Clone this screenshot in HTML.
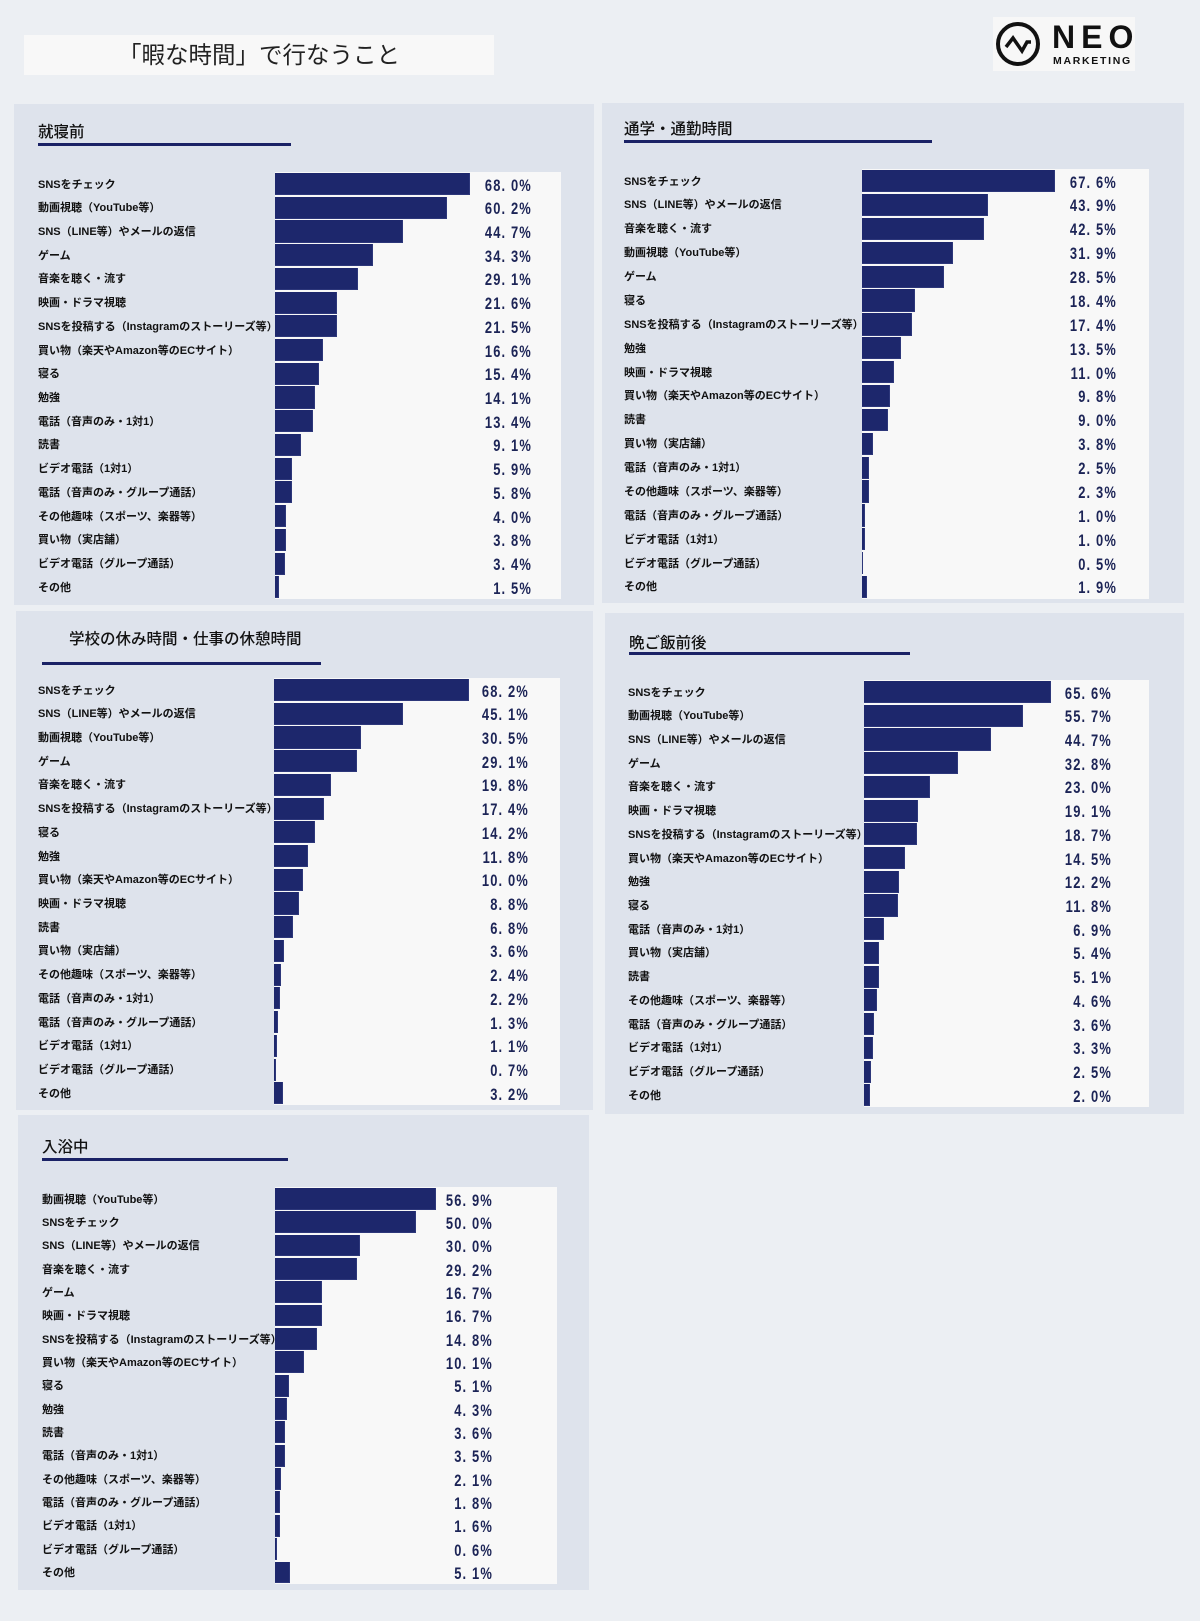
<!DOCTYPE html>
<html><head><meta charset="utf-8">
<style>
*{margin:0;padding:0;box-sizing:border-box}
html,body{width:1200px;height:1621px;overflow:hidden}
body{position:relative;background:#eceff3;font-family:"Liberation Sans","Noto Sans CJK JP",sans-serif;color:#111}
.a{position:absolute}
.panel{position:absolute;background:#dee3ec}
.plot{position:absolute;background:#f8f8f8}
.ttl{position:absolute;font-family:"Liberation Sans","Noto Sans CJK JP",sans-serif;font-size:15.5px;font-weight:500;line-height:20px;color:#111;white-space:nowrap}
.ul{position:absolute;height:2.5px;background:#1a2266}
.rows{position:absolute}
.r{position:relative;height:var(--h)}
.l{position:absolute;left:0;top:1.5px;line-height:var(--h);font-size:11px;font-weight:bold;white-space:nowrap;color:#111}
.b{position:absolute;left:var(--bx);top:1px;height:calc(var(--h) - 1.6px);background:#1d276c;box-shadow:inset -1px -1px 0 #2d377a}
.v{position:absolute;right:0;top:1.5px;line-height:var(--h);font-family:"Liberation Sans",sans-serif;font-size:17px;font-weight:bold;letter-spacing:1.5px;color:#1c2456;white-space:pre;transform:scaleX(.76);transform-origin:right center}
</style></head>
<body>

<!-- Title box -->
<div class="a" style="left:24px;top:35px;width:470px;height:40px;background:#f8f8f8"></div>
<div class="a" style="left:24px;top:35px;width:470px;height:40px;line-height:40px;text-align:center;font-family:'Liberation Sans','Noto Sans CJK JP',sans-serif;font-size:23.5px;color:#222;white-space:nowrap">「暇な時間」で行なうこと</div>

<!-- Logo -->
<div class="a" style="left:993px;top:17px;width:142px;height:54px;background:#f7f7f7"></div>
<svg class="a" style="left:993px;top:17px" width="142" height="54" viewBox="0 0 142 54">
  <circle cx="25" cy="27" r="20" fill="none" stroke="#111" stroke-width="4"/>
  <polyline points="13,30 20,21 29,34 34,25 38,25" fill="none" stroke="#111" stroke-width="3.5" stroke-linejoin="miter"/>
</svg>
<div class="a" style="left:1052px;top:20px;font-family:'Liberation Sans',sans-serif;font-weight:bold;font-size:32px;line-height:34px;letter-spacing:6px;color:#111">NEO</div>
<div class="a" style="left:1053px;top:55px;font-family:'Liberation Sans',sans-serif;font-weight:bold;font-size:10.5px;line-height:12px;letter-spacing:1.7px;color:#111">MARKETING</div>

<!-- Panel 1 -->
<div class="panel" style="left:14px;top:104px;width:580px;height:501px"></div>
<div class="ttl" style="left:38px;top:123px">就寝前</div>
<div class="ul" style="left:38px;top:143px;width:253px"></div>
<div class="plot" style="left:275px;top:172px;width:286px;height:427px"></div>
<div class="rows" style="left:38px;top:172px;width:494px;--h:23.72px;--bx:237px">
<div class="r"><span class="l">SNSをチェック</span><i class="b" style="width:194.5px"></i><span class="v">68. 0%</span></div>
<div class="r"><span class="l">動画視聴（YouTube等）</span><i class="b" style="width:172.2px"></i><span class="v">60. 2%</span></div>
<div class="r"><span class="l">SNS（LINE等）やメールの返信</span><i class="b" style="width:127.8px"></i><span class="v">44. 7%</span></div>
<div class="r"><span class="l">ゲーム</span><i class="b" style="width:98.1px"></i><span class="v">34. 3%</span></div>
<div class="r"><span class="l">音楽を聴く・流す</span><i class="b" style="width:83.2px"></i><span class="v">29. 1%</span></div>
<div class="r"><span class="l">映画・ドラマ視聴</span><i class="b" style="width:61.8px"></i><span class="v">21. 6%</span></div>
<div class="r"><span class="l">SNSを投稿する（Instagramのストーリーズ等）</span><i class="b" style="width:61.5px"></i><span class="v">21. 5%</span></div>
<div class="r"><span class="l">買い物（楽天やAmazon等のECサイト）</span><i class="b" style="width:47.5px"></i><span class="v">16. 6%</span></div>
<div class="r"><span class="l">寝る</span><i class="b" style="width:44px"></i><span class="v">15. 4%</span></div>
<div class="r"><span class="l">勉強</span><i class="b" style="width:40.3px"></i><span class="v">14. 1%</span></div>
<div class="r"><span class="l">電話（音声のみ・1対1）</span><i class="b" style="width:38.3px"></i><span class="v">13. 4%</span></div>
<div class="r"><span class="l">読書</span><i class="b" style="width:26px"></i><span class="v">9. 1%</span></div>
<div class="r"><span class="l">ビデオ電話（1対1）</span><i class="b" style="width:16.9px"></i><span class="v">5. 9%</span></div>
<div class="r"><span class="l">電話（音声のみ・グループ通話）</span><i class="b" style="width:16.6px"></i><span class="v">5. 8%</span></div>
<div class="r"><span class="l">その他趣味（スポーツ、楽器等）</span><i class="b" style="width:11.4px"></i><span class="v">4. 0%</span></div>
<div class="r"><span class="l">買い物（実店舗）</span><i class="b" style="width:10.9px"></i><span class="v">3. 8%</span></div>
<div class="r"><span class="l">ビデオ電話（グループ通話）</span><i class="b" style="width:9.7px"></i><span class="v">3. 4%</span></div>
<div class="r"><span class="l">その他</span><i class="b" style="width:4.3px"></i><span class="v">1. 5%</span></div>
</div>

<!-- Panel 2 -->
<div class="panel" style="left:602px;top:103px;width:582px;height:500px"></div>
<div class="ttl" style="left:624px;top:120px">通学・通勤時間</div>
<div class="ul" style="left:624px;top:140px;width:308px"></div>
<div class="plot" style="left:862px;top:169px;width:287px;height:430px"></div>
<div class="rows" style="left:624px;top:169px;width:493px;--h:23.89px;--bx:238px">
<div class="r"><span class="l">SNSをチェック</span><i class="b" style="width:193.3px"></i><span class="v">67. 6%</span></div>
<div class="r"><span class="l">SNS（LINE等）やメールの返信</span><i class="b" style="width:125.6px"></i><span class="v">43. 9%</span></div>
<div class="r"><span class="l">音楽を聴く・流す</span><i class="b" style="width:121.6px"></i><span class="v">42. 5%</span></div>
<div class="r"><span class="l">動画視聴（YouTube等）</span><i class="b" style="width:91.2px"></i><span class="v">31. 9%</span></div>
<div class="r"><span class="l">ゲーム</span><i class="b" style="width:81.5px"></i><span class="v">28. 5%</span></div>
<div class="r"><span class="l">寝る</span><i class="b" style="width:52.6px"></i><span class="v">18. 4%</span></div>
<div class="r"><span class="l">SNSを投稿する（Instagramのストーリーズ等）</span><i class="b" style="width:49.8px"></i><span class="v">17. 4%</span></div>
<div class="r"><span class="l">勉強</span><i class="b" style="width:38.6px"></i><span class="v">13. 5%</span></div>
<div class="r"><span class="l">映画・ドラマ視聴</span><i class="b" style="width:31.5px"></i><span class="v">11. 0%</span></div>
<div class="r"><span class="l">買い物（楽天やAmazon等のECサイト）</span><i class="b" style="width:28px"></i><span class="v">9. 8%</span></div>
<div class="r"><span class="l">読書</span><i class="b" style="width:25.7px"></i><span class="v">9. 0%</span></div>
<div class="r"><span class="l">買い物（実店舗）</span><i class="b" style="width:10.9px"></i><span class="v">3. 8%</span></div>
<div class="r"><span class="l">電話（音声のみ・1対1）</span><i class="b" style="width:7.2px"></i><span class="v">2. 5%</span></div>
<div class="r"><span class="l">その他趣味（スポーツ、楽器等）</span><i class="b" style="width:6.6px"></i><span class="v">2. 3%</span></div>
<div class="r"><span class="l">電話（音声のみ・グループ通話）</span><i class="b" style="width:2.9px"></i><span class="v">1. 0%</span></div>
<div class="r"><span class="l">ビデオ電話（1対1）</span><i class="b" style="width:2.9px"></i><span class="v">1. 0%</span></div>
<div class="r"><span class="l">ビデオ電話（グループ通話）</span><i class="b" style="width:1.4px"></i><span class="v">0. 5%</span></div>
<div class="r"><span class="l">その他</span><i class="b" style="width:5.4px"></i><span class="v">1. 9%</span></div>
</div>

<!-- Panel 3 -->
<div class="panel" style="left:16px;top:611px;width:577px;height:499px"></div>
<div class="ttl" style="left:69px;top:630px">学校の休み時間・仕事の休憩時間</div>
<div class="ul" style="left:42px;top:662px;width:279px"></div>
<div class="plot" style="left:274px;top:678px;width:286px;height:427px"></div>
<div class="rows" style="left:38px;top:678px;width:491px;--h:23.72px;--bx:236px">
<div class="r"><span class="l">SNSをチェック</span><i class="b" style="width:195.1px"></i><span class="v">68. 2%</span></div>
<div class="r"><span class="l">SNS（LINE等）やメールの返信</span><i class="b" style="width:129px"></i><span class="v">45. 1%</span></div>
<div class="r"><span class="l">動画視聴（YouTube等）</span><i class="b" style="width:87.2px"></i><span class="v">30. 5%</span></div>
<div class="r"><span class="l">ゲーム</span><i class="b" style="width:83.2px"></i><span class="v">29. 1%</span></div>
<div class="r"><span class="l">音楽を聴く・流す</span><i class="b" style="width:56.6px"></i><span class="v">19. 8%</span></div>
<div class="r"><span class="l">SNSを投稿する（Instagramのストーリーズ等）</span><i class="b" style="width:49.8px"></i><span class="v">17. 4%</span></div>
<div class="r"><span class="l">寝る</span><i class="b" style="width:40.6px"></i><span class="v">14. 2%</span></div>
<div class="r"><span class="l">勉強</span><i class="b" style="width:33.7px"></i><span class="v">11. 8%</span></div>
<div class="r"><span class="l">買い物（楽天やAmazon等のECサイト）</span><i class="b" style="width:28.6px"></i><span class="v">10. 0%</span></div>
<div class="r"><span class="l">映画・ドラマ視聴</span><i class="b" style="width:25.2px"></i><span class="v">8. 8%</span></div>
<div class="r"><span class="l">読書</span><i class="b" style="width:19.4px"></i><span class="v">6. 8%</span></div>
<div class="r"><span class="l">買い物（実店舗）</span><i class="b" style="width:10.3px"></i><span class="v">3. 6%</span></div>
<div class="r"><span class="l">その他趣味（スポーツ、楽器等）</span><i class="b" style="width:6.9px"></i><span class="v">2. 4%</span></div>
<div class="r"><span class="l">電話（音声のみ・1対1）</span><i class="b" style="width:6.3px"></i><span class="v">2. 2%</span></div>
<div class="r"><span class="l">電話（音声のみ・グループ通話）</span><i class="b" style="width:3.7px"></i><span class="v">1. 3%</span></div>
<div class="r"><span class="l">ビデオ電話（1対1）</span><i class="b" style="width:3.1px"></i><span class="v">1. 1%</span></div>
<div class="r"><span class="l">ビデオ電話（グループ通話）</span><i class="b" style="width:2px"></i><span class="v">0. 7%</span></div>
<div class="r"><span class="l">その他</span><i class="b" style="width:9.2px"></i><span class="v">3. 2%</span></div>
</div>

<!-- Panel 4 -->
<div class="panel" style="left:605px;top:613px;width:579px;height:501px"></div>
<div class="ttl" style="left:629px;top:634px">晩ご飯前後</div>
<div class="ul" style="left:629px;top:652px;width:281px"></div>
<div class="plot" style="left:864px;top:680px;width:285px;height:427px"></div>
<div class="rows" style="left:628px;top:680px;width:484px;--h:23.72px;--bx:236px">
<div class="r"><span class="l">SNSをチェック</span><i class="b" style="width:187px"></i><span class="v">65. 6%</span></div>
<div class="r"><span class="l">動画視聴（YouTube等）</span><i class="b" style="width:158.7px"></i><span class="v">55. 7%</span></div>
<div class="r"><span class="l">SNS（LINE等）やメールの返信</span><i class="b" style="width:127.4px"></i><span class="v">44. 7%</span></div>
<div class="r"><span class="l">ゲーム</span><i class="b" style="width:93.5px"></i><span class="v">32. 8%</span></div>
<div class="r"><span class="l">音楽を聴く・流す</span><i class="b" style="width:65.6px"></i><span class="v">23. 0%</span></div>
<div class="r"><span class="l">映画・ドラマ視聴</span><i class="b" style="width:54.4px"></i><span class="v">19. 1%</span></div>
<div class="r"><span class="l">SNSを投稿する（Instagramのストーリーズ等）</span><i class="b" style="width:53.3px"></i><span class="v">18. 7%</span></div>
<div class="r"><span class="l">買い物（楽天やAmazon等のECサイト）</span><i class="b" style="width:41.3px"></i><span class="v">14. 5%</span></div>
<div class="r"><span class="l">勉強</span><i class="b" style="width:34.8px"></i><span class="v">12. 2%</span></div>
<div class="r"><span class="l">寝る</span><i class="b" style="width:33.6px"></i><span class="v">11. 8%</span></div>
<div class="r"><span class="l">電話（音声のみ・1対1）</span><i class="b" style="width:19.7px"></i><span class="v">6. 9%</span></div>
<div class="r"><span class="l">買い物（実店舗）</span><i class="b" style="width:15.4px"></i><span class="v">5. 4%</span></div>
<div class="r"><span class="l">読書</span><i class="b" style="width:14.5px"></i><span class="v">5. 1%</span></div>
<div class="r"><span class="l">その他趣味（スポーツ、楽器等）</span><i class="b" style="width:13.1px"></i><span class="v">4. 6%</span></div>
<div class="r"><span class="l">電話（音声のみ・グループ通話）</span><i class="b" style="width:10.3px"></i><span class="v">3. 6%</span></div>
<div class="r"><span class="l">ビデオ電話（1対1）</span><i class="b" style="width:9.4px"></i><span class="v">3. 3%</span></div>
<div class="r"><span class="l">ビデオ電話（グループ通話）</span><i class="b" style="width:7.1px"></i><span class="v">2. 5%</span></div>
<div class="r"><span class="l">その他</span><i class="b" style="width:5.7px"></i><span class="v">2. 0%</span></div>
</div>

<!-- Panel 5 -->
<div class="panel" style="left:18px;top:1115px;width:571px;height:475px"></div>
<div class="ttl" style="left:42px;top:1138px">入浴中</div>
<div class="ul" style="left:42px;top:1158px;width:246px"></div>
<div class="plot" style="left:275px;top:1187px;width:282px;height:397px"></div>
<div class="rows" style="left:42px;top:1187px;width:451px;--h:23.35px;--bx:233px">
<div class="r"><span class="l">動画視聴（YouTube等）</span><i class="b" style="width:160.5px"></i><span class="v">56. 9%</span></div>
<div class="r"><span class="l">SNSをチェック</span><i class="b" style="width:141px"></i><span class="v">50. 0%</span></div>
<div class="r"><span class="l">SNS（LINE等）やメールの返信</span><i class="b" style="width:84.6px"></i><span class="v">30. 0%</span></div>
<div class="r"><span class="l">音楽を聴く・流す</span><i class="b" style="width:82.3px"></i><span class="v">29. 2%</span></div>
<div class="r"><span class="l">ゲーム</span><i class="b" style="width:47.1px"></i><span class="v">16. 7%</span></div>
<div class="r"><span class="l">映画・ドラマ視聴</span><i class="b" style="width:47.1px"></i><span class="v">16. 7%</span></div>
<div class="r"><span class="l">SNSを投稿する（Instagramのストーリーズ等）</span><i class="b" style="width:41.7px"></i><span class="v">14. 8%</span></div>
<div class="r"><span class="l">買い物（楽天やAmazon等のECサイト）</span><i class="b" style="width:28.5px"></i><span class="v">10. 1%</span></div>
<div class="r"><span class="l">寝る</span><i class="b" style="width:14.4px"></i><span class="v">5. 1%</span></div>
<div class="r"><span class="l">勉強</span><i class="b" style="width:12.1px"></i><span class="v">4. 3%</span></div>
<div class="r"><span class="l">読書</span><i class="b" style="width:10.2px"></i><span class="v">3. 6%</span></div>
<div class="r"><span class="l">電話（音声のみ・1対1）</span><i class="b" style="width:9.9px"></i><span class="v">3. 5%</span></div>
<div class="r"><span class="l">その他趣味（スポーツ、楽器等）</span><i class="b" style="width:5.9px"></i><span class="v">2. 1%</span></div>
<div class="r"><span class="l">電話（音声のみ・グループ通話）</span><i class="b" style="width:5.1px"></i><span class="v">1. 8%</span></div>
<div class="r"><span class="l">ビデオ電話（1対1）</span><i class="b" style="width:4.5px"></i><span class="v">1. 6%</span></div>
<div class="r"><span class="l">ビデオ電話（グループ通話）</span><i class="b" style="width:1.7px"></i><span class="v">0. 6%</span></div>
<div class="r"><span class="l">その他</span><i class="b" style="width:15px"></i><span class="v">5. 1%</span></div>
</div>

</body></html>
